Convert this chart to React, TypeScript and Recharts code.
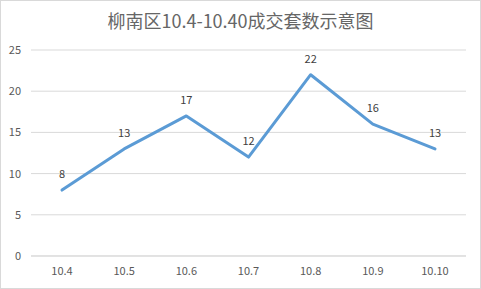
import { LineChart, Line, XAxis, YAxis, CartesianGrid, LabelList } from "recharts";

const dates = ["10.4", "10.5", "10.6", "10.7", "10.8", "10.9", "10.10"];
const deals = [8, 13, 17, 12, 22, 16, 13];
const yTicks = [0, 5, 10, 15, 20, 25];

const data = dates.map((d, i) => ({ date: d, deals: deals[i] }));

const font = '"Noto Sans CJK SC", "Noto Sans", sans-serif';

export default function App() {
    return (
        <div style={{ position: "relative", width: 481, height: 289, background: "#fff" }}>
            <style>{"body{margin:0}"}</style>
            <div
                style={{
                    position: "absolute",
                    left: 0,
                    top: 0,
                    width: 479,
                    height: 287,
                    border: "1px solid #d9d9d9",
                }}
            />
            <div
                style={{
                    position: "absolute",
                    top: 7,
                    width: 481,
                    textAlign: "center",
                    fontFamily: font,
                    fontSize: 18,
                    color: "#666",
                    lineHeight: "26px",
                }}
            >
                柳南区10.4-10.40成交套数示意图
            </div>
            <LineChart
                width={481}
                height={289}
                data={data}
                margin={{ top: 50, right: 15, left: 0, bottom: 0 }}
                style={{ position: "absolute", left: 0, top: 0 }}
            >
                <CartesianGrid vertical={false} stroke="#d9d9d9" />
                <XAxis
                    dataKey="date"
                    height={33}
                    padding={{ left: 31, right: 31 }}
                    tickLine={false}
                    axisLine={{ stroke: "#d9d9d9" }}
                    tick={{ fill: "#595959", fontSize: 11, fontFamily: font }}
                    tickMargin={5}
                />
                <YAxis
                    width={31}
                    domain={[0, 25]}
                    ticks={yTicks}
                    tickLine={false}
                    axisLine={false}
                    tick={{ fill: "#595959", fontSize: 11, fontFamily: font }}
                    tickMargin={4}
                />
                <Line
                    dataKey="deals"
                    stroke="#5b9bd5"
                    strokeWidth={3}
                    strokeLinecap="round"
                    strokeLinejoin="round"
                    dot={false}
                    activeDot={false}
                    isAnimationActive={false}
                >
                    <LabelList
                        dataKey="deals"
                        position="top"
                        offset={12}
                        fill="#404040"
                        fontSize={11}
                        fontFamily={font}
                    />
                </Line>
            </LineChart>
        </div>
    );
}
